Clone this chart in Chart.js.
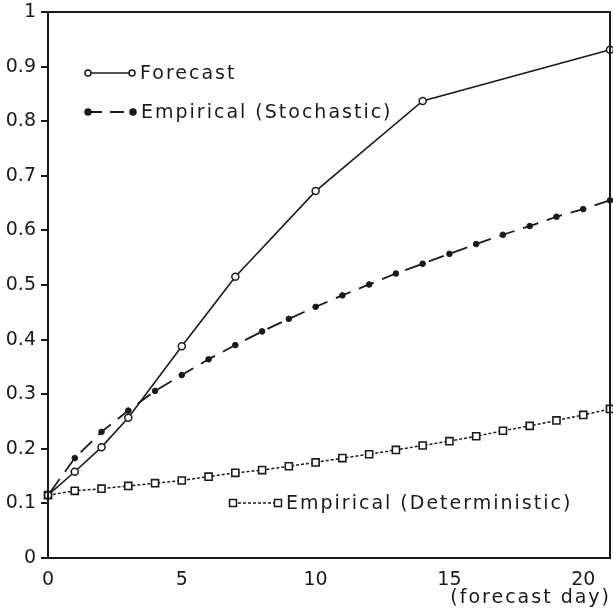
<!DOCTYPE html>
<html>
<head>
<meta charset="utf-8">
<script src="https://cdn.jsdelivr.net/npm/chart.js@4"></script>
<style>
  html, body { margin: 0; padding: 0; background: #fff; }
  #wrap { width: 613px; height: 613px; }
</style>
</head>
<body>
<div id="wrap"><canvas id="skillChart" width="613" height="613"></canvas></div>
<script>
// Data
const forecastDays = [0, 1, 2, 3, 5, 7, 10, 14, 21];
const forecastValues = [0.115, 0.158, 0.203, 0.257, 0.388, 0.515, 0.672, 0.837, 0.931];

const days = [0, 1, 2, 3, 4, 5, 6, 7, 8, 9, 10, 11, 12, 13, 14, 15, 16, 17, 18, 19, 20, 21];
const stochasticValues = [0.115, 0.183, 0.231, 0.270, 0.306, 0.335, 0.364, 0.390, 0.415, 0.438, 0.460,
    0.481, 0.501, 0.521, 0.539, 0.557, 0.575, 0.592, 0.608, 0.625, 0.639, 0.655];
const deterministicValues = [0.115, 0.123, 0.127, 0.132, 0.137, 0.142, 0.149, 0.156, 0.161, 0.168, 0.175,
    0.183, 0.190, 0.198, 0.206, 0.214, 0.223, 0.233, 0.242, 0.252, 0.262, 0.273];

const xTickValues = [0, 5, 10, 15, 20];
const seriesLabels = ['Forecast', 'Empirical (Stochastic)', 'Empirical (Deterministic)'];
const axisLabelX = '(forecast day)';

const INK = '#1a1a1a';
const FONT = '"DejaVu Sans", sans-serif';

function toPoints(xs, ys) {
    return xs.map((x, i) => ({ x: x, y: ys[i] }));
}

/**
 * Box round the plot area, in-plot legend and x-axis caption
 */
const framePlugin = {
    id: 'frame',
    afterDraw(chart) {
        const { ctx, chartArea } = chart;
        ctx.save();
        ctx.strokeStyle = INK;
        ctx.lineWidth = 2;
        ctx.strokeRect(chartArea.left, chartArea.top,
            chartArea.right - chartArea.left, chartArea.bottom - chartArea.top);

        // legend entries: [x0, x1, y, dataset index]
        const entries = [
            [88, 132, 73, 0],
            [88, 133, 112, 1],
            [233, 278, 503, 2]
        ];
        ctx.font = '19px ' + FONT;
        ctx.letterSpacing = '2px';
        ctx.textBaseline = 'middle';
        ctx.textAlign = 'left';
        entries.forEach(([x0, x1, y, idx]) => {
            const ds = chart.data.datasets[idx];
            ctx.save();
            ctx.strokeStyle = INK;
            ctx.lineWidth = ds.borderWidth;
            ctx.setLineDash(idx === 1 ? [14, 8] : (ds.borderDash || []));
            ctx.beginPath();
            ctx.moveTo(x0, y);
            ctx.lineTo(x1, y);
            ctx.stroke();
            ctx.setLineDash([]);
            [x0, x1].forEach(px => {
                ctx.fillStyle = ds.pointBackgroundColor;
                ctx.lineWidth = 1.5;
                ctx.beginPath();
                if (ds.pointStyle === 'rect') {
                    ctx.rect(px - 3.5, y - 3.5, 7, 7);
                } else {
                    ctx.arc(px, y, 3, 0, Math.PI * 2);
                }
                ctx.fill();
                ctx.stroke();
            });
            ctx.restore();
            ctx.fillStyle = INK;
            ctx.fillText(ds.label, x1 + 8, y + 1);
        });

        ctx.textAlign = 'right';
        ctx.fillText(axisLabelX, 611, 598);
        ctx.restore();
    }
};

const ctx = document.getElementById('skillChart').getContext('2d');
new Chart(ctx, {
    type: 'line',
    data: {
        datasets: [
            {
                label: seriesLabels[0],
                data: toPoints(forecastDays, forecastValues),
                borderColor: INK,
                borderWidth: 1.6,
                pointStyle: 'circle',
                pointRadius: 3.5,
                pointBorderWidth: 1.5,
                pointBackgroundColor: '#fff',
                pointBorderColor: INK,
                clip: false,
                order: 1
            },
            {
                label: seriesLabels[1],
                data: toPoints(days, stochasticValues),
                borderColor: INK,
                borderWidth: 1.8,
                borderDash: [16, 9],
                borderDashOffset: -4,
                pointStyle: 'circle',
                pointRadius: 2.8,
                pointBorderWidth: 1,
                pointBackgroundColor: INK,
                pointBorderColor: INK,
                clip: false,
                order: 2
            },
            {
                label: seriesLabels[2],
                data: toPoints(days, deterministicValues),
                borderColor: INK,
                borderWidth: 1.5,
                borderDash: [3, 2],
                pointStyle: 'rect',
                pointRadius: 5,
                pointBorderWidth: 1.6,
                pointBackgroundColor: '#fff',
                pointBorderColor: INK,
                clip: false,
                order: 3
            }
        ]
    },
    options: {
        responsive: false,
        animation: false,
        layout: { autoPadding: false, padding: { top: 12, right: 3, left: 0, bottom: 0 } },
        plugins: {
            legend: { display: false },
            tooltip: { enabled: false },
            title: { display: false }
        },
        scales: {
            x: {
                type: 'linear',
                min: 0,
                max: 21,
                afterBuildTicks: (scale) => {
                    scale.ticks = xTickValues.map(v => ({ value: v }));
                },
                afterFit: (scale) => {
                    scale.height = 55;
                    scale.paddingLeft = 0;
                    scale.paddingRight = 0;
                },
                ticks: {
                    color: INK,
                    padding: 3,
                    font: { family: FONT, size: 19 }
                },
                grid: { display: false },
                border: { display: true, color: INK, width: 2 }
            },
            y: {
                min: 0,
                max: 1,
                afterFit: (scale) => {
                    scale.width = 48;
                    scale.paddingTop = 0;
                    scale.paddingBottom = 0;
                },
                ticks: {
                    stepSize: 0.1,
                    color: INK,
                    padding: 5,
                    font: { family: FONT, size: 19 },
                    callback: (v) => Math.round(v * 10) / 10
                },
                grid: {
                    drawOnChartArea: false,
                    drawTicks: true,
                    tickLength: 7,
                    color: INK,
                    lineWidth: 2
                },
                border: { display: true, color: INK, width: 2 }
            }
        }
    },
    plugins: [framePlugin]
});
</script>
</body>
</html>
